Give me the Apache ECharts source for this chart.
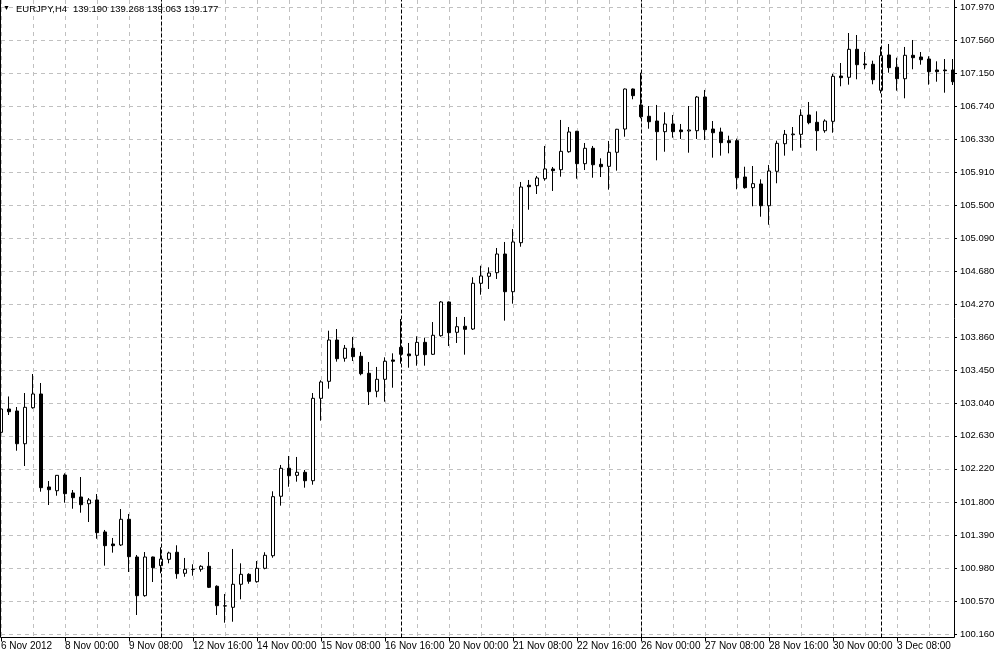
<!DOCTYPE html>
<html>
<head>
<meta charset="utf-8">
<script src="https://cdn.jsdelivr.net/npm/echarts@6/dist/echarts.min.js"></script>
<style>
html,body{margin:0;padding:0;background:#fff;}
#c{width:996px;height:658px;}
</style>
</head>
<body>
<div id="c"></div>
<script>
// H4 bars, index 0 = 6 Nov 2012 16:00
const barIndex = Array.from({length: 120}, (_, i) => String(i));
const tickLabels = ['6 Nov 2012','8 Nov 00:00','9 Nov 08:00','12 Nov 16:00','14 Nov 00:00','15 Nov 08:00','16 Nov 16:00','20 Nov 00:00','21 Nov 08:00','22 Nov 16:00','26 Nov 00:00','27 Nov 08:00','28 Nov 16:00','30 Nov 00:00','3 Dec 08:00'];
const priceTicks = [100.160,100.570,100.980,101.390,101.800,102.220,102.630,103.040,103.450,103.860,104.270,104.680,105.090,105.500,105.910,106.330,106.740,107.150,107.560,107.970];
const weekSeparators = [20, 50, 80, 110];

const opens = [102.674,102.965,102.940,102.532,102.981,103.152,101.993,101.946,102.142,101.918,
101.868,101.784,101.831,101.432,101.282,101.270,101.590,101.120,100.638,101.120,
101.012,101.091,101.179,100.917,100.967,100.967,101.004,100.755,100.511,100.493,
100.780,100.904,100.812,100.979,101.136,101.877,102.226,102.138,102.176,102.071,
103.098,103.310,103.825,103.597,103.722,103.622,103.410,103.186,103.335,103.576,
103.734,103.651,103.634,103.796,103.647,103.879,104.299,103.921,103.996,103.962,
104.532,104.619,104.664,104.897,104.427,105.038,105.754,105.749,105.836,105.957,
105.948,106.172,106.427,106.023,106.215,106.015,105.990,106.165,106.455,106.954,
106.755,106.614,106.555,106.422,106.518,106.443,106.431,106.434,106.854,106.455,
106.418,106.310,106.310,105.857,105.724,105.770,105.499,105.928,106.272,106.384,
106.389,106.630,106.539,106.434,106.551,107.116,107.100,107.449,107.266,107.262,
106.938,107.378,107.225,107.082,107.374,107.353,107.328,107.191,107.191,107.191];

const highs = [102.977,103.121,102.990,103.164,103.401,103.289,102.067,102.142,102.163,101.955,
102.117,101.855,101.905,101.457,101.357,101.718,101.656,101.145,101.182,101.125,
101.241,101.186,101.266,101.108,101.029,101.017,101.182,100.767,100.659,101.220,
101.041,100.917,101.070,101.179,101.939,102.267,102.379,102.367,102.205,103.164,
103.323,103.941,103.962,103.763,103.863,103.676,103.551,103.489,103.609,103.659,
104.087,103.788,103.871,103.854,104.049,104.311,104.305,104.112,104.112,104.607,
104.751,104.731,104.972,105.047,105.209,105.795,105.820,105.870,106.244,105.982,
106.568,106.480,106.432,106.281,106.244,106.090,106.306,106.457,106.960,106.960,
107.157,106.742,106.755,106.664,106.630,106.518,106.742,106.867,106.942,106.555,
106.472,106.372,106.335,105.985,105.994,105.828,106.007,106.310,106.443,106.480,
106.701,106.792,106.676,106.576,107.145,107.278,107.652,107.627,107.415,107.307,
107.478,107.515,107.344,107.478,107.565,107.415,107.362,107.299,107.328,107.328];

const lows = [102.628,102.890,102.445,102.254,102.969,101.934,101.768,101.884,101.797,101.722,
101.672,101.556,101.348,101.012,101.174,101.257,100.933,100.397,100.625,100.808,
100.917,101.041,100.849,100.874,100.887,100.937,100.733,100.397,100.301,100.313,
100.593,100.787,100.800,100.967,101.111,101.760,101.996,102.059,101.984,102.021,
102.819,103.218,103.555,103.555,103.563,103.385,103.015,103.111,103.056,103.230,
103.530,103.480,103.505,103.505,103.638,103.866,103.750,103.788,103.642,103.950,
104.390,104.461,104.586,104.066,104.278,104.988,105.449,105.645,105.811,105.683,
105.861,106.160,105.836,105.944,105.848,105.857,105.699,105.936,106.359,106.826,
106.589,106.459,106.065,106.172,106.347,106.331,106.160,106.331,106.318,106.098,
106.123,106.152,105.704,105.711,105.492,105.362,105.262,105.779,106.123,106.185,
106.222,106.514,106.185,106.409,106.409,106.988,107.008,107.075,107.200,107.013,
106.900,107.157,106.933,106.838,107.200,107.257,107.008,107.045,106.908,107.004];

const closes = [102.965,102.931,102.532,102.986,103.152,101.984,101.959,102.138,101.909,101.859,
101.772,101.831,101.423,101.261,101.261,101.590,101.124,100.638,101.120,100.987,
101.095,101.170,100.912,100.967,100.964,101.004,100.742,100.513,100.509,100.780,
100.904,100.817,100.979,101.141,101.872,102.226,102.133,102.176,102.071,103.098,
103.302,103.825,103.592,103.722,103.617,103.405,103.181,103.335,103.560,103.560,
103.647,103.629,103.796,103.642,103.884,104.299,103.916,103.991,103.958,104.532,
104.623,104.660,104.897,104.427,105.047,105.732,105.736,105.845,105.957,105.936,
106.177,106.418,106.023,106.215,106.010,105.985,106.165,106.452,106.954,106.871,
106.609,106.546,106.422,106.518,106.422,106.422,106.443,106.854,106.447,106.409,
106.285,106.285,105.848,105.724,105.774,105.499,105.932,106.277,106.389,106.393,
106.626,106.534,106.434,106.555,107.112,107.095,107.449,107.257,107.257,107.070,
107.369,107.220,107.082,107.374,107.344,107.319,107.170,107.170,107.182,107.045];

const candles = opens.map((o, i) => [o, closes[i], lows[i], highs[i]]);

const FONT = "'Liberation Sans', Arial, sans-serif";
const chart = echarts.init(document.getElementById('c'), null, {renderer: 'canvas'});
chart.setOption({
  animation: false,
  backgroundColor: '#ffffff',
  grid: {left: 1, right: 43, top: 0, bottom: 20.5, containLabel: false, outerBoundsMode: 'none'},
  xAxis: {
    type: 'category',
    data: barIndex,
    boundaryGap: false,
    axisLine: {show: false},
    axisTick: {show: true, interval: 7, length: 4, lineStyle: {color: '#000', width: 1}},
    axisLabel: {
      interval: 7, align: 'left', margin: 4, color: '#000',
      fontFamily: FONT, fontSize: 10,
      formatter: (v, idx) => (idx % 8 === 0 ? tickLabels[idx / 8] : '')
    },
    splitLine: {show: true, interval: 3, lineStyle: {color: '#c0c0c0', type: [4, 4], width: 1}}
  },
  yAxis: {
    type: 'value',
    position: 'right',
    offset: 1,
    min: 100.1164,
    max: 108.0635,
    scale: true,
    axisLine: {show: false},
    axisTick: {show: true, length: 3, customValues: priceTicks, lineStyle: {color: '#000'}},
    axisLabel: {
      customValues: priceTicks, margin: 6, color: '#000',
      fontFamily: FONT, fontSize: 9.5,
      formatter: v => Number(v).toFixed(3)
    },
    splitLine: {show: true, lineStyle: {color: '#c0c0c0', type: [4, 4], width: 1}}
  },
  series: [{
    type: 'candlestick',
    data: candles,
    barWidth: 4,
    clip: false,
    itemStyle: {
      color: '#ffffff', color0: '#000000',
      borderColor: '#000000', borderColor0: '#000000', borderColorDoji: '#000000',
      borderWidth: 1
    },
    markLine: {
      silent: true,
      symbol: ['none', 'none'],
      label: {show: false},
      animation: false,
      lineStyle: {color: '#000', type: [4, 2], width: 1},
      data: weekSeparators.map(i => ({xAxis: i}))
    }
  }],
  graphic: [
    {
      type: 'rect', silent: true, z: 50,
      shape: {x: 0.5, y: -5, width: 954, height: 642.5},
      style: {fill: null, stroke: '#000', lineWidth: 1}
    },
    {
      type: 'text', left: 3, top: 5, z: 60, silent: true,
      style: {text: '▼', fill: '#000', font: "7px " + FONT}
    },
    {
      type: 'text', left: 16, top: 4, z: 60, silent: true,
      style: {text: 'EURJPY,H4', fill: '#000', font: "9.5px " + FONT}
    },
    {
      type: 'text', left: 73, top: 4, z: 60, silent: true,
      style: {text: '139.190 139.268 139.063 139.177', fill: '#000', font: "9.5px " + FONT}
    }
  ]
});
</script>
</body>
</html>
